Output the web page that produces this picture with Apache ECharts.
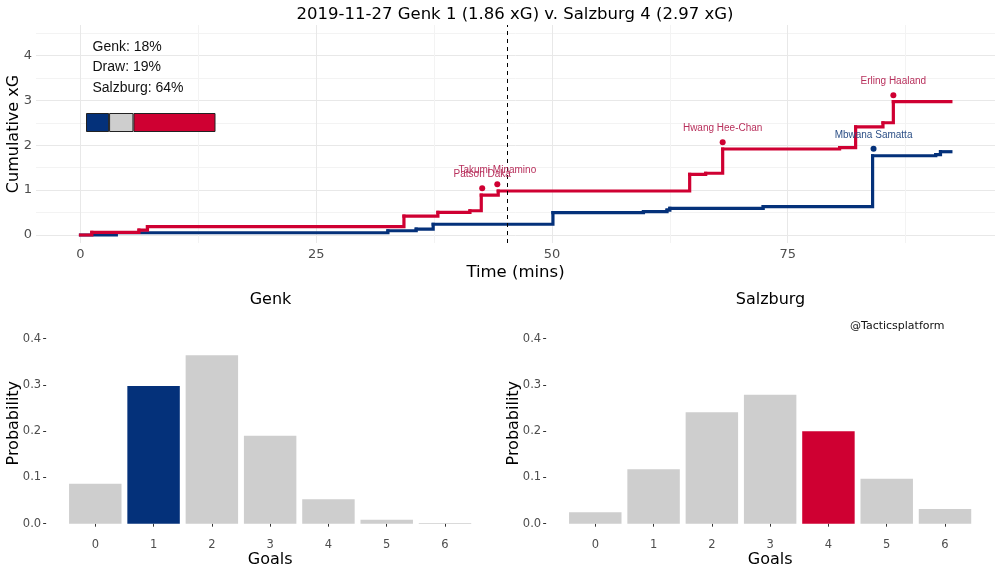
<!DOCTYPE html>
<html lang="en">
<head>
    <meta charset="UTF-8">
    <title>Genk v Salzburg xG</title>
    <script src="https://cdn.jsdelivr.net/npm/echarts@6/dist/echarts.min.js"></script>
    <style>
        html, body { width: 100%; height: 100%; margin: 0; padding: 0; background: #fff; }
        #main { width: 1000px; height: 572px; }
    </style>
</head>
<body>
    <div id="main"></div>
    <script>
        // cumulative xG steps
        var genkMins = [0, 3.8, 32.6, 35.6, 37.4, 50.1, 59.7, 62.2, 62.5, 72.4, 84.0, 90.7, 91.2, 92.3];
        var genkXg = [0, 0.05, 0.095, 0.13, 0.24, 0.5, 0.52, 0.555, 0.595, 0.63, 1.765, 1.79, 1.855, 1.855];
        var salzburgMins = [0, 1.2, 6.2, 7.1, 34.3, 37.9, 41.3, 42.5, 44.3, 64.6, 66.3, 68.1, 80.5, 82.2, 85.1, 86.2, 92.3];
        var salzburgXg = [0, 0.06, 0.11, 0.185, 0.42, 0.505, 0.54, 0.89, 0.98, 1.35, 1.375, 1.915, 1.945, 2.41, 2.5, 2.97, 2.97];

        // goals
        var genkGoalNames = ['Mbwana Samatta'];
        var genkGoalMins = [84.1];
        var genkGoalXg = [1.92];
        var salzburgGoalNames = ['Patson Daka', 'Takumi Minamino', 'Hwang Hee-Chan', 'Erling Haaland'];
        var salzburgGoalMins = [42.6, 44.2, 68.1, 86.2];
        var salzburgGoalXg = [1.04, 1.13, 2.065, 3.11];

        var halfTime = 45.3;

        // win probabilities
        var outcomeNames = ['Genk', 'Draw', 'Salzburg'];
        var outcomePct = [18, 19, 64];

        // goal distributions
        var goalCats = ['0', '1', '2', '3', '4', '5', '6'];
        var genkProb = [0.0865, 0.298, 0.364, 0.19, 0.053, 0.0086, 0.0014];
        var salzburgProb = [0.025, 0.118, 0.241, 0.279, 0.2, 0.097, 0.032];
        var genkActual = 1;
        var salzburgActual = 4;

        var timeTicks = [0, 25, 50, 75];
        var timeMinor = [12.5, 37.5, 62.5, 87.5];
        var xgTicks = [0, 1, 2, 3, 4];
        var xgMinor = [0.5, 1.5, 2.5, 3.5, 4.5];

        var BLUE = '#04317a';
        var RED = '#cf0032';
        var GREY = '#cecece';
        var SANS = '"DejaVu Sans"';
        var ARIAL = '"Liberation Sans"';

        function zip(a, b) {
            return a.map(function (v, i) { return [v, b[i]]; });
        }

        function probBars(values, actual, colour) {
            return values.map(function (v, i) {
                return { value: v, itemStyle: { color: i === actual ? colour : GREY } };
            });
        }

        // one row per step: from, to, level, next level
        function stepRows(mins, xg) {
            return mins.slice(0, -1).map(function (m, i) {
                return [m, mins[i + 1], xg[i], xg[i + 1]];
            });
        }

        // the line series drops small steps, so draw them by hand
        function stepSeries(mins, xg, colour, z) {
            return {
                type: 'custom', xAxisIndex: 0, yAxisIndex: 0, z: z,
                encode: { x: [0, 1], y: [2, 3] },
                data: stepRows(mins, xg),
                renderItem: function (params, api) {
                    return {
                        type: 'polyline',
                        shape: { points: [
                            api.coord([api.value(0), api.value(2)]),
                            api.coord([api.value(1), api.value(2)]),
                            api.coord([api.value(1), api.value(3)])
                        ] },
                        style: { fill: null, stroke: colour, lineWidth: 3.2, lineCap: 'square', lineJoin: 'miter' }
                    };
                }
            };
        }

        function goalLabels(names, mins, xg, colour, textColour) {
            return {
                type: 'scatter',
                symbolSize: 6,
                itemStyle: { color: colour, opacity: 1 },
                label: {
                    show: true,
                    position: 'top',
                    distance: 6,
                    fontFamily: ARIAL,
                    fontSize: 10,
                    color: textColour,
                    formatter: function (p) { return names[p.dataIndex]; }
                },
                labelLayout: { hideOverlap: false },
                data: zip(mins, xg),
                z: 5
            };
        }

        // hidden-looking axis that only draws the minor grid
        function minorAxis(gridIndex, min, max, values) {
            return {
                type: 'value', gridIndex: gridIndex, min: min, max: max,
                axisLine: { show: false },
                axisLabel: { show: false },
                axisTick: { show: false, customValues: values },
                splitLine: { show: true, lineStyle: { color: '#f3f3f3', width: 1 } }
            };
        }

        function goalsX(gridIndex) {
            return {
                type: 'category', gridIndex: gridIndex, data: goalCats, offset: 8,
                name: 'Goals', nameLocation: 'middle', nameGap: 20, nameMoveOverlap: false,
                nameTextStyle: { fontFamily: SANS, fontSize: 16, color: '#000' },
                axisLine: { show: false },
                axisTick: { show: true, alignWithLabel: true, length: 3, lineStyle: { color: '#333' } },
                axisLabel: { fontFamily: SANS, fontSize: 11.5, color: '#4d4d4d', margin: 7 },
                splitLine: { show: false }
            };
        }

        function probY(gridIndex) {
            return {
                type: 'value', gridIndex: gridIndex, min: 0, max: 0.4, interval: 0.1, offset: 20,
                name: 'Probability', nameLocation: 'middle', nameGap: 24, nameRotate: 90, nameMoveOverlap: false,
                nameTextStyle: { fontFamily: SANS, fontSize: 16, color: '#000', padding: [0, 0, 0, 16] },
                axisLine: { show: false },
                axisTick: { show: true, length: 3, lineStyle: { color: '#333' } },
                axisLabel: { fontFamily: SANS, fontSize: 11.5, color: '#4d4d4d', margin: 5,
                    formatter: function (v) { return v.toFixed(1); } },
                splitLine: { show: false }
            };
        }

        var myChart = echarts.init(document.getElementById('main'));

        var outcomeColours = [BLUE, GREY, RED];
        var outcomeSeries = outcomePct.map(function (v, i) {
            return {
                type: 'bar', name: outcomeNames[i], xAxisIndex: 2, yAxisIndex: 2, stack: 'win',
                barWidth: '100%',
                itemStyle: { color: outcomeColours[i], borderColor: '#222', borderWidth: 1 },
                data: [v]
            };
        });

        var option = {
            backgroundColor: '#fff',
            animation: false,
            title: [
                { text: '2019-11-27 Genk 1 (1.86 xG) v. Salzburg 4 (2.97 xG)', left: 510, top: 1, textAlign: 'center',
                  textStyle: { fontFamily: SANS, fontSize: 16.5, fontWeight: 'normal', color: '#000' } },
                { text: 'Genk', left: 265.5, top: 287, textAlign: 'center',
                  textStyle: { fontFamily: SANS, fontSize: 16, fontWeight: 'normal', color: '#000' } },
                { text: 'Salzburg', left: 765.5, top: 287, textAlign: 'center',
                  textStyle: { fontFamily: SANS, fontSize: 16, fontWeight: 'normal', color: '#000' } }
            ],
            graphic: outcomeNames.map(function (n, i) {
                return {
                    type: 'text', left: 92.5, top: 40 + i * 20.5,
                    style: { text: n + ': ' + outcomePct[i] + '%', font: '14px ' + ARIAL, fill: '#111' }
                };
            }).concat([{
                type: 'text', left: 850, top: 321,
                style: { text: '@Tacticsplatform', font: '11px ' + SANS, fill: '#111' }
            }]),
            grid: [
                { left: 36, top: 25, width: 959, height: 218, outerBoundsMode: 'none' },
                { left: 86, top: 113, width: 129.5, height: 19, outerBoundsMode: 'none' },
                { left: 66.15, top: 338.7, width: 408, height: 185, outerBoundsMode: 'none' },
                { left: 566.15, top: 338.7, width: 408, height: 185, outerBoundsMode: 'none' }
            ],
            xAxis: [
                {
                    type: 'value', gridIndex: 0, min: -4.72, max: 96.98,
                    name: 'Time (mins)', nameLocation: 'middle', nameGap: 21, nameMoveOverlap: false,
                    nameTextStyle: { fontFamily: SANS, fontSize: 16.5, color: '#000' },
                    axisLine: { show: false },
                    axisTick: { show: false, customValues: timeTicks },
                    axisLabel: { fontFamily: SANS, fontSize: 13, color: '#4d4d4d', margin: 5, customValues: timeTicks },
                    splitLine: { show: true, lineStyle: { color: '#e8e8e8', width: 1 } }
                },
                minorAxis(0, -4.72, 96.98, timeMinor),
                { type: 'value', gridIndex: 1, min: 0, max: 101, show: false },
                goalsX(2),
                goalsX(3)
            ],
            yAxis: [
                {
                    type: 'value', gridIndex: 0, min: -0.178, max: 4.677,
                    name: 'Cumulative xG', nameLocation: 'middle', nameGap: 14, nameRotate: 90, nameMoveOverlap: false,
                    nameTextStyle: { fontFamily: SANS, fontSize: 16, color: '#000' },
                    axisLine: { show: false },
                    axisTick: { show: false, customValues: xgTicks },
                    axisLabel: { fontFamily: SANS, fontSize: 13, color: '#4d4d4d', margin: 4, customValues: xgTicks },
                    splitLine: { show: true, lineStyle: { color: '#e8e8e8', width: 1 } }
                },
                minorAxis(0, -0.178, 4.677, xgMinor),
                { type: 'category', gridIndex: 1, data: ['win'], show: false },
                probY(2),
                probY(3)
            ],
            series: [
                stepSeries(genkMins, genkXg, BLUE, 3),
                stepSeries(salzburgMins, salzburgXg, RED, 4),
                {
                    type: 'line', xAxisIndex: 0, yAxisIndex: 0, symbol: 'none', data: [],
                    markLine: {
                        silent: true, symbol: 'none', label: { show: false },
                        lineStyle: { color: '#000', type: [4, 4], width: 1 },
                        data: [{ xAxis: halfTime }]
                    }
                },
                goalLabels(genkGoalNames, genkGoalMins, genkGoalXg, BLUE, '#2d5087'),
                goalLabels(salzburgGoalNames, salzburgGoalMins, salzburgGoalXg, RED, '#b8305c'),
                {
                    type: 'bar', xAxisIndex: 3, yAxisIndex: 3, barCategoryGap: '10%',
                    data: probBars(genkProb, genkActual, BLUE)
                },
                {
                    type: 'bar', xAxisIndex: 4, yAxisIndex: 4, barCategoryGap: '10%',
                    data: probBars(salzburgProb, salzburgActual, RED)
                }
            ].concat(outcomeSeries)
        };
        myChart.setOption(option);
    </script>
</body>
</html>
